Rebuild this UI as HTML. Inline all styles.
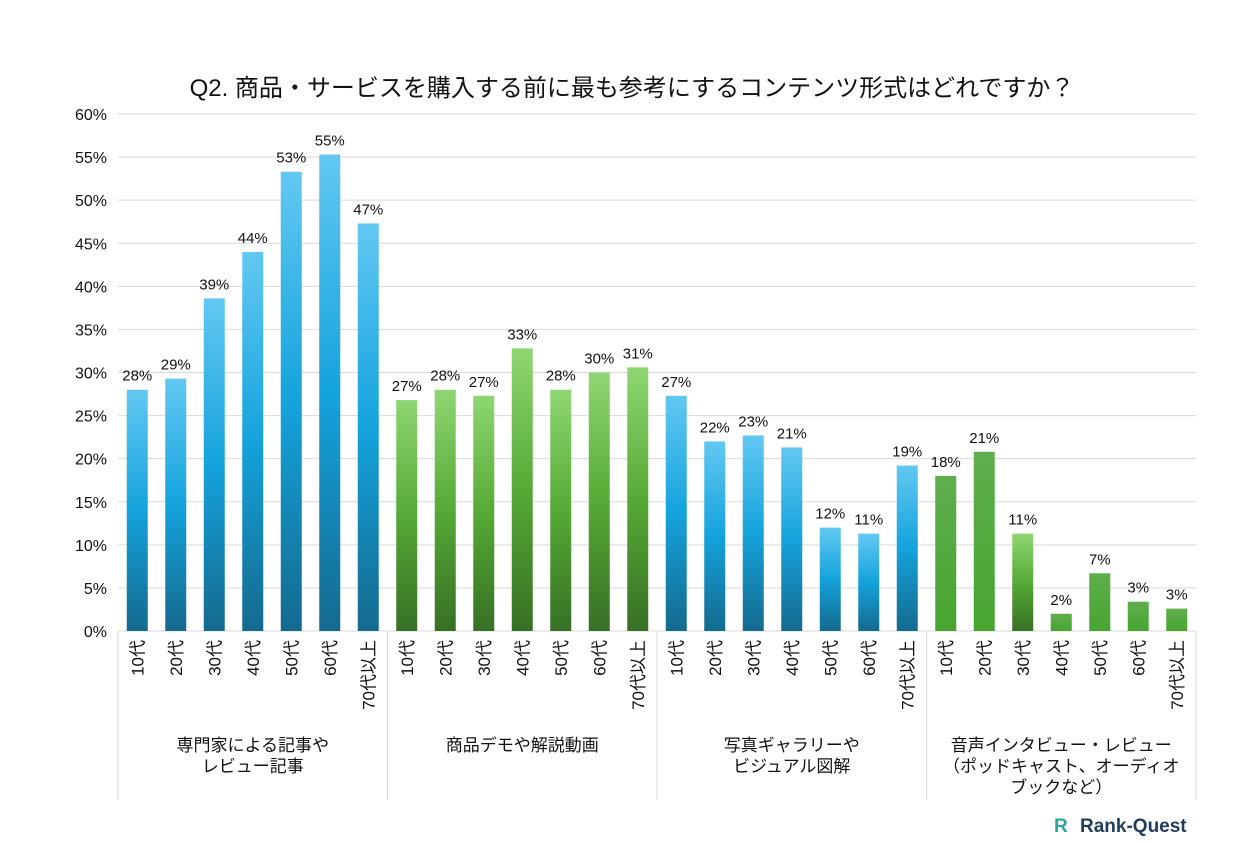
<!DOCTYPE html>
<html><head><meta charset="utf-8"><style>
body{margin:0;background:#fff;}
svg text{font-family:"Liberation Sans","Noto Sans CJK JP",sans-serif;}
</style></head><body>
<svg id="c" width="1240" height="838" xmlns="http://www.w3.org/2000/svg">
<defs>
<linearGradient id="gb" x1="0" y1="0" x2="0" y2="1"><stop offset="0" stop-color="#62c8f2"/><stop offset="0.5" stop-color="#14a3dc"/><stop offset="1" stop-color="#146a8e"/></linearGradient>
<linearGradient id="gg" x1="0" y1="0" x2="0" y2="1"><stop offset="0" stop-color="#8fd672"/><stop offset="0.5" stop-color="#56aa35"/><stop offset="1" stop-color="#377025"/></linearGradient>
<linearGradient id="gs" x1="0" y1="0" x2="0" y2="1"><stop offset="0" stop-color="#5fae4d"/><stop offset="1" stop-color="#47a530"/></linearGradient>
</defs>
<text x="632" y="96" text-anchor="middle" font-size="24" fill="#111">Q2. 商品・サービスを購入する前に最も参考にするコンテンツ形式はどれですか？</text>
<g id="grid"></g><g id="bars"></g><g id="xl"></g>
<g><text x="1080" y="832" font-size="19" font-weight="bold" fill="#1f3c5a" font-family="Liberation Serif,serif">Rank-Quest</text><text x="1054" y="832" font-size="19" font-weight="bold" fill="#2aa7a0">R</text></g>
</svg>
<script>
const ticks=[0,5,10,15,20,25,30,35,40,45,50,55,60];
const ages=["10代","20代","30代","40代","50代","60代","70代以上"];
const groups=[["専門家による記事や","レビュー記事"],["商品デモや解説動画"],["写真ギャラリーや","ビジュアル図解"],["音声インタビュー・レビュー","（ポッドキャスト、オーディオ","ブックなど）"]];
const v1=[28,29.3,38.6,44,53.3,55.3,47.3];
const v2=[26.8,28,27.3,32.8,28,30,30.6];
const v3=[27.3,22,22.7,21.3,12,11.3,19.2];
const v4=[18,20.8,11.3,2,6.7,3.4,2.6];
const series=[v1,v2,v3,v4];
const fills=[["gb"],["gg"],["gb"],["gs","gs","gg","gs","gs","gs","gs"]];
const NS="http://www.w3.org/2000/svg";
const X0=118,X1=1196,Y0=631,Y1=114;
const slot=(X1-X0)/28;
const y=v=>Y0-(v/60)*(Y0-Y1);
const x=i=>X0+slot*(i+0.5);
function mk(t,a,p){const e=document.createElementNS(NS,t);for(const k in a)e.setAttribute(k,a[k]);p.appendChild(e);return e;}
const grid=document.getElementById('grid');
ticks.forEach(t=>{
 const l=mk('line',{x1:X0,x2:X1,y1:y(t),y2:y(t),stroke:'#d9d9d9','stroke-width':1},grid);
 
 
 const tx=mk('text',{x:107,y:y(t)+6,'text-anchor':'end','font-size':16,fill:'#111'},grid);
 tx.textContent=t+'%';
 
 
});
const bars=document.getElementById('bars'),xl=document.getElementById('xl');
series.forEach((s,g)=>{
 s.forEach((v,j)=>{
  const i=g*7+j,f=fills[g][j]||fills[g][0];
  const r=mk('rect',{x:x(i)-10.5,y:y(v),width:21,height:Y0-y(v),fill:'url(#'+f+')'},bars);
  
  
  const t=mk('text',{x:x(i),y:y(v)-9,'text-anchor':'middle','font-size':15,fill:'#111'},bars);
  t.textContent=Math.round(v)+'%';
  
  
  const a=mk('text',{transform:`translate(${x(i)+6},640) rotate(-90)`,'text-anchor':'end','font-size':17,fill:'#111'},xl);
  a.textContent=ages[j];
  
  
 });
 const cx=X0+slot*7*(g+0.5);
 groups[g].forEach((ln,k)=>{
  const t=mk('text',{x:cx,y:751+k*21,'text-anchor':'middle','font-size':17,fill:'#111'},xl);
  t.textContent=ln;
  
  
 });
});
for(let g=0;g<=4;g++){
 const l=mk('line',{x1:X0+slot*7*g,x2:X0+slot*7*g,y1:Y0,y2:800,stroke:'#d9d9d9','stroke-width':1},xl);
 
 
}
</script>
</body></html>
